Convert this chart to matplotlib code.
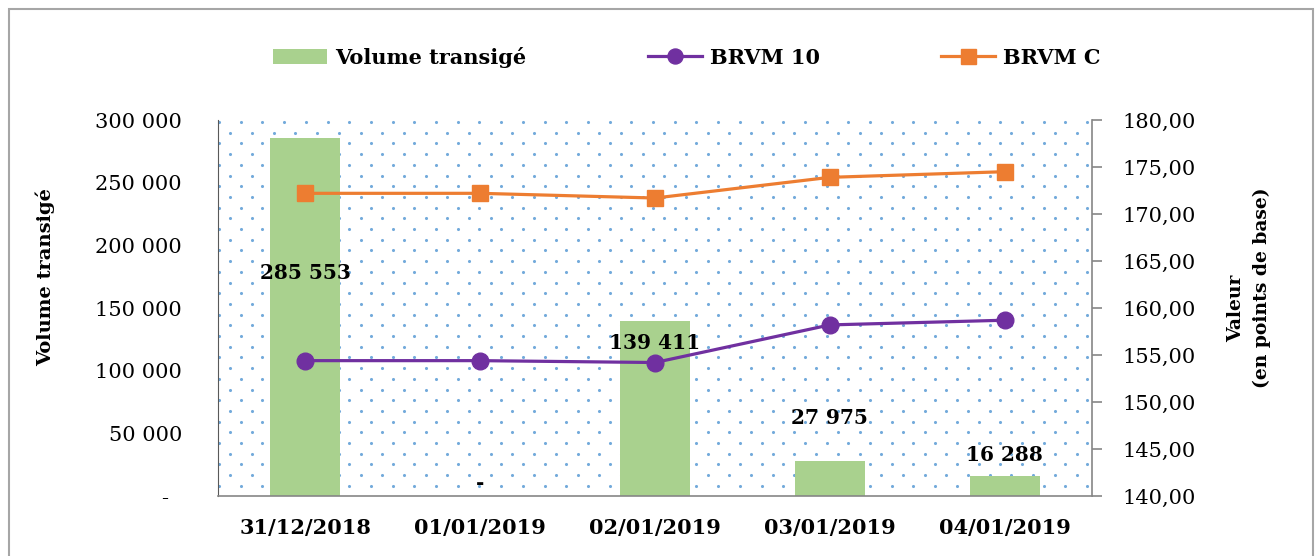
import numpy as np
import matplotlib.pyplot as plt
from matplotlib.patches import Rectangle

dates = ['31/12/2018', '01/01/2019', '02/01/2019', '03/01/2019', '04/01/2019']
volume = [285553, 0, 139411, 27975, 16288]
brvm10 = [154.4, 154.4, 154.2, 158.2, 158.7]
brvmc = [172.2, 172.2, 171.7, 173.9, 174.5]
# where the volume labels sit (left axis units), as placed in the original
label_y = [178000, 10500, 122000, 62000, 32500]

plt.rcParams['font.family'] = 'DejaVu Serif'

green = '#A9D18E'
purple = '#7030A0'
orange = '#ED7D31'
grey = '#868686'

fig = plt.figure(figsize=(13.16, 5.56), dpi=100)
ax = fig.add_axes([218/1316, 60/556, 874/1316, 376/556])
ax2 = ax.twinx()

# dotted background
W, H = 874, 376
pts = []
for i, yy in enumerate(np.arange(2, H, 10.7)):
    off = 11.3 if i % 2 else 0
    for xx in np.arange(off + 1, W, 21.7):
        pts.append((xx / W, 1 - yy / H))
pts = np.array(pts)
ax.scatter(pts[:, 0], pts[:, 1], s=5, color='#5B9BD5', alpha=0.85,
           transform=ax.transAxes, zorder=0, linewidths=0)

x = np.arange(len(dates))
bars = ax.bar(x, volume, width=0.4, color=green, zorder=2, label='Volume transigé')
for xi, v, ly in zip(x, volume, label_y):
    txt = '-' if v == 0 else f'{v:,}'.replace(',', ' ')
    ax.text(xi, ly, txt, ha='center', va='center', fontsize=14.5,
            fontweight='bold', zorder=5)

l1, = ax2.plot(x, brvm10, color=purple, lw=2.3, marker='o', ms=12, label='BRVM 10')
l2, = ax2.plot(x, brvmc, color=orange, lw=2.3, marker='s', ms=12, label='BRVM C')

ax.set_xlim(-0.5, 4.5)
ax.set_ylim(0, 300000)
ax2.set_ylim(140, 180)
ax.set_yticks(np.arange(0, 300001, 50000))
ax.set_yticklabels(['-  '] + [f'{v:,}'.replace(',', ' ') for v in range(50000, 300001, 50000)])
ax2.set_yticks(np.arange(140, 181, 5))
ax2.set_yticklabels([f'{v:.2f}'.replace('.', ',') for v in range(140, 181, 5)])
ax.set_xticks(x)
ax.set_xticklabels(dates, fontweight='bold')

ax.tick_params(axis='y', length=0, pad=26, labelsize=15)
ax.tick_params(axis='x', length=0, pad=16, labelsize=15)
ax2.tick_params(axis='y', length=7, width=1.2, color=grey, pad=15, labelsize=15)

for a in (ax, ax2):
    a.spines['top'].set_visible(False)
ax2.spines['left'].set_visible(False)
ax2.spines['bottom'].set_visible(False)
ax.spines['right'].set_visible(False)
ax.spines['left'].set_color('#595959')
ax.spines['bottom'].set_color(grey)
ax2.spines['right'].set_color(grey)
ax.spines['bottom'].set_linewidth(1.2)
ax2.spines['right'].set_linewidth(1.2)

ax.set_ylabel('Volume transigé', fontsize=14, fontweight='bold')
ax.yaxis.set_label_coords(-0.1865, 0.582)
# right axis title, two lines as in the original
ax2.text(1.165, 0.50, 'Valeur', transform=ax.transAxes, rotation=90,
         ha='center', va='center', fontsize=13.5, fontweight='bold')
ax2.text(1.194, 0.555, '(en points de base)', transform=ax.transAxes, rotation=90,
         ha='center', va='center', fontsize=13.5, fontweight='bold')

fig.legend([bars, l1, l2], ['Volume transigé', 'BRVM 10', 'BRVM C'],
           loc='center', bbox_to_anchor=(0.522, 1 - 57/556), ncol=3,
           frameon=False, prop={'weight': 'bold', 'size': 15},
           handlelength=2.6, handletextpad=0.4, columnspacing=5.8, markerscale=0.9)

fig.add_artist(Rectangle((9/1316, -0.02), 1304/1316, 0.02 + 1 - 9/556,
                         transform=fig.transFigure, fill=False,
                         edgecolor='#A6A6A6', lw=1.5))

fig.savefig('out.png', dpi=100)
